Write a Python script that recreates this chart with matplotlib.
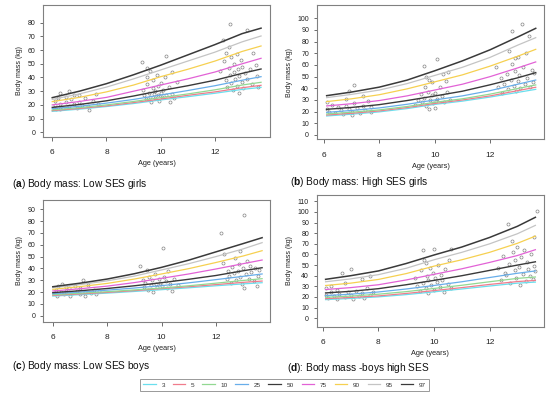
import matplotlib.pyplot as plt
from matplotlib.lines import Line2D

plt.rcParams['font.family'] = ['Liberation Sans', 'DejaVu Sans']
plt.rcParams['mathtext.fontset'] = 'custom'
plt.rcParams['mathtext.rm'] = 'Liberation Sans'
plt.rcParams['mathtext.bf'] = 'Liberation Sans:bold'

# centile curves: 3,5,10,25,50,75,90,95,97
centiles = ['3', '5', '10', '25', '50', '75', '90', '95', '97']
colours = ['#6ADFEE', '#F07C8C', '#92D892', '#68AEEA', '#3A3A3A',
           '#E262D6', '#F6D050', '#C4C4C4', '#3A3A3A']
widths = [0.9, 0.9, 0.9, 0.9, 1.0, 0.9, 0.9, 0.9, 1.1]

# (a) low SES girls
ages_a = [6.0, 7, 8, 9, 10, 11, 12, 13, 13.7]
curves_a = [
    [15.3, 16.9, 18.8, 21.0, 23.6, 26.0, 28.5, 31.3, 32.8],
    [15.8, 17.4, 19.3, 21.7, 24.3, 27.0, 29.5, 32.5, 34.3],
    [16.3, 18.0, 20.0, 22.5, 25.3, 28.0, 31.0, 34.5, 36.5],
    [17.3, 19.0, 21.3, 24.0, 27.2, 30.5, 34.0, 38.0, 40.6],
    [18.2, 20.3, 23.0, 26.5, 30.4, 34.0, 38.0, 43.0, 46.2],
    [20.0, 22.5, 25.5, 30.0, 34.5, 39.0, 44.0, 50.0, 54.0],
    [22.4, 25.5, 29.5, 34.5, 40.6, 46.0, 52.0, 59.0, 63.0],
    [24.0, 28.0, 33.0, 39.0, 45.5, 52.0, 58.5, 66.0, 70.3],
    [25.3, 30.0, 35.5, 42.0, 49.0, 56.5, 64.0, 72.0, 76.0],
]
pts_a = [(6.05, 18), (6.1, 20), (6.1, 23), (6.15, 17), (6.2, 25), (6.3, 29), (6.3, 21),
         (6.4, 18), (6.5, 22), (6.5, 26), (6.6, 30), (6.6, 19), (6.7, 24), (6.8, 21),
         (6.9, 18), (7.0, 27), (7.0, 22), (7.1, 20), (7.2, 25), (7.3, 19), (7.35, 16),
         (7.5, 23), (7.6, 28), (7.7, 21), (6.3, 17), (6.8, 27),
         (9.3, 51), (9.35, 31), (9.4, 27), (9.45, 24), (9.5, 47), (9.5, 35), (9.55, 29),
         (9.6, 26), (9.6, 45), (9.65, 22), (9.7, 32), (9.7, 38), (9.75, 28), (9.8, 25),
         (9.8, 30), (9.85, 42), (9.9, 27), (9.9, 34), (9.95, 23), (10.0, 29), (10.0, 36),
         (10.05, 26), (10.1, 31), (10.15, 40), (10.2, 56), (10.2, 27), (10.3, 33),
         (10.35, 22), (10.4, 44), (10.4, 28), (10.5, 25), (10.6, 37), (9.5, 40),
         (12.2, 45), (12.3, 67), (12.35, 52), (12.4, 38), (12.4, 58), (12.45, 33),
         (12.5, 47), (12.55, 79), (12.55, 42), (12.6, 36), (12.6, 55), (12.65, 31),
         (12.7, 44), (12.7, 50), (12.75, 39), (12.8, 57), (12.8, 34), (12.85, 46),
         (12.9, 41), (12.9, 29), (12.95, 53), (13.0, 37), (13.0, 48), (13.05, 32),
         (13.1, 43), (13.2, 75), (13.2, 39), (13.3, 46), (13.35, 35), (13.4, 58),
         (13.5, 49), (13.55, 41), (13.6, 33), (12.5, 62)]

# (b) high SES girls
ages_b = [6.1, 7, 8, 9, 10, 11, 12, 13, 13.65]
curves_b = [
    [16.3, 17.8, 19.8, 22.6, 26.2, 29.0, 32.5, 36.5, 39.1],
    [17.1, 18.6, 20.6, 23.5, 27.0, 30.0, 33.5, 38.0, 40.9],
    [18.0, 19.5, 21.5, 24.4, 28.0, 31.0, 35.0, 39.8, 42.9],
    [19.4, 21.0, 23.2, 26.3, 30.0, 33.5, 38.0, 43.5, 47.1],
    [22.0, 23.6, 26.0, 29.5, 33.4, 37.5, 43.0, 49.0, 53.4],
    [24.9, 26.8, 29.5, 33.5, 38.5, 43.5, 50.0, 57.5, 62.6],
    [28.6, 31.0, 34.5, 39.5, 45.5, 51.5, 59.0, 67.5, 73.4],
    [32.0, 34.8, 38.5, 44.0, 51.0, 58.0, 66.5, 77.0, 83.4],
    [33.7, 36.8, 41.0, 47.0, 55.0, 63.5, 73.0, 84.0, 91.4],
]
pts_b = [(6.1, 28), (6.1, 22), (6.2, 20), (6.3, 26), (6.4, 19), (6.5, 24), (6.6, 21),
         (6.7, 18), (6.8, 25), (6.8, 31), (6.9, 22), (7.0, 17), (7.0, 20), (7.1, 43),
         (7.1, 27), (7.2, 23), (7.3, 19), (7.4, 33), (7.4, 25), (7.5, 21), (7.6, 29),
         (7.7, 24), (6.9, 38), (7.7, 20),
         (9.3, 26), (9.4, 30), (9.5, 35), (9.55, 28), (9.6, 59), (9.6, 32), (9.7, 50),
         (9.7, 25), (9.75, 37), (9.8, 22), (9.8, 47), (9.85, 30), (9.9, 45), (9.9, 34),
         (9.95, 27), (10.0, 23), (10.0, 36), (10.05, 29), (10.1, 65), (10.1, 31),
         (10.2, 41), (10.25, 33), (10.3, 52), (10.35, 28), (10.4, 46), (10.45, 37),
         (10.5, 54), (10.55, 30), (9.65, 41),
         (12.2, 58), (12.3, 41), (12.4, 49), (12.45, 36), (12.5, 44), (12.6, 52),
         (12.65, 39), (12.7, 72), (12.75, 47), (12.8, 89), (12.8, 61), (12.85, 42),
         (12.9, 55), (12.95, 38), (13.0, 67), (13.0, 46), (13.05, 51), (13.1, 40),
         (13.15, 95), (13.2, 58), (13.25, 44), (13.3, 70), (13.35, 49), (13.4, 85),
         (13.45, 41), (13.5, 56), (13.55, 45), (13.6, 53), (12.9, 66)]

# (c) low SES boys
ages_c = [6.0, 7, 8, 9, 10, 11, 12, 13, 13.7]
curves_c = [
    [16.6, 17.8, 19.1, 20.5, 22.0, 23.6, 25.3, 26.9, 27.9],
    [17.2, 18.4, 19.7, 21.2, 22.9, 24.5, 26.3, 28.2, 29.3],
    [17.8, 19.0, 20.3, 21.8, 23.4, 25.3, 27.5, 29.8, 31.3],
    [18.6, 20.0, 21.6, 23.4, 25.4, 27.8, 30.5, 33.3, 35.3],
    [19.5, 21.1, 23.0, 25.3, 27.9, 30.8, 34.0, 38.0, 40.6],
    [20.9, 22.8, 25.0, 28.0, 31.6, 35.3, 39.5, 44.0, 47.1],
    [22.3, 24.6, 27.3, 31.0, 35.3, 39.8, 45.0, 50.5, 55.0],
    [23.7, 26.3, 29.5, 33.5, 38.7, 44.0, 50.0, 56.5, 61.8],
    [24.5, 27.5, 31.0, 35.5, 40.9, 47.0, 54.0, 61.0, 66.0],
]
pts_c = [(6.05, 19), (6.1, 22), (6.15, 17), (6.2, 25), (6.3, 20), (6.35, 27), (6.4, 18),
         (6.5, 21), (6.6, 23), (6.65, 17), (6.7, 19), (6.8, 25), (6.9, 21), (7.0, 18),
         (7.0, 23), (7.1, 30), (7.2, 20), (7.3, 26), (7.4, 19), (7.5, 22), (7.6, 18),
         (7.7, 21), (6.5, 24), (7.2, 17),
         (9.2, 42), (9.3, 30), (9.35, 24), (9.4, 28), (9.5, 22), (9.55, 33), (9.6, 26),
         (9.65, 30), (9.7, 20), (9.75, 35), (9.8, 27), (9.85, 24), (9.9, 31), (9.95, 28),
         (10.0, 25), (10.05, 57), (10.1, 33), (10.15, 29), (10.2, 23), (10.25, 38),
         (10.3, 27), (10.4, 21), (10.45, 31), (10.6, 26), (9.45, 39),
         (12.2, 70), (12.25, 45), (12.3, 52), (12.4, 31), (12.45, 38), (12.5, 34),
         (12.55, 28), (12.6, 41), (12.65, 36), (12.7, 49), (12.75, 30), (12.8, 38),
         (12.85, 44), (12.9, 33), (12.95, 27), (13.0, 40), (13.05, 85), (13.05, 23),
         (13.1, 35), (13.15, 46), (13.2, 31), (13.25, 42), (13.3, 37), (13.4, 29),
         (13.45, 40), (13.5, 25), (13.55, 34), (13.6, 39), (12.9, 55)]

# (d) high SES boys
ages_d = [6.1, 7, 8, 9, 10, 11, 12, 13, 13.65]
curves_d = [
    [17.5, 18.6, 20.1, 22.2, 24.8, 27.5, 30.3, 33.0, 34.0],
    [18.4, 19.5, 21.0, 23.3, 26.0, 28.8, 31.8, 34.5, 35.6],
    [19.7, 20.8, 22.6, 25.0, 28.0, 31.0, 34.3, 37.5, 38.8],
    [21.3, 22.6, 24.7, 27.5, 30.8, 34.3, 38.3, 42.3, 44.5],
    [23.8, 25.3, 27.8, 31.5, 35.6, 40.0, 45.0, 50.0, 53.1],
    [27.0, 28.8, 31.5, 36.0, 41.3, 46.5, 52.5, 59.0, 64.5],
    [30.8, 33.0, 36.5, 42.0, 49.0, 55.0, 62.0, 70.5, 77.3],
    [34.3, 37.0, 41.0, 47.0, 55.0, 62.0, 70.0, 79.5, 87.4],
    [36.6, 40.0, 44.5, 51.5, 59.5, 67.0, 76.0, 86.5, 95.0],
]
pts_d = [(6.1, 22), (6.1, 28), (6.2, 19), (6.3, 25), (6.4, 21), (6.5, 27), (6.5, 18),
         (6.6, 23), (6.7, 43), (6.8, 20), (6.8, 33), (6.9, 25), (7.0, 46), (7.0, 22),
         (7.1, 18), (7.2, 26), (7.3, 21), (7.4, 37), (7.4, 24), (7.5, 19), (7.6, 28),
         (7.7, 40), (7.7, 22), (7.8, 25), (6.3, 30),
         (9.3, 38), (9.4, 30), (9.5, 26), (9.55, 45), (9.6, 64), (9.6, 33), (9.7, 52),
         (9.7, 28), (9.75, 40), (9.8, 36), (9.8, 24), (9.85, 47), (9.9, 31), (9.95, 43),
         (10.0, 65), (10.0, 27), (10.05, 38), (10.1, 34), (10.15, 50), (10.2, 29),
         (10.25, 41), (10.3, 36), (10.35, 25), (10.4, 46), (10.5, 32), (10.55, 55),
         (10.6, 65), (10.6, 28), (9.65, 55),
         (12.3, 47), (12.4, 36), (12.5, 59), (12.55, 43), (12.65, 89), (12.7, 51),
         (12.75, 33), (12.8, 73), (12.85, 62), (12.9, 45), (12.9, 55), (12.95, 38),
         (13.0, 67), (13.05, 48), (13.1, 31), (13.15, 58), (13.2, 42), (13.25, 64),
         (13.3, 35), (13.35, 53), (13.4, 46), (13.45, 40), (13.5, 60), (13.55, 37),
         (13.6, 49), (13.65, 44), (13.7, 101), (13.6, 76), (12.6, 41)]

W, H = 550, 398
fig = plt.figure(figsize=(W / 100, H / 100), dpi=100)

def px_rect(l, t, r, b):
    return [l / W, 1 - b / H, (r - l) / W, (b - t) / H]

panels = [
    (px_rect(43.3, 5, 270, 136.7), ages_a, curves_a, pts_a, (5.67, 14.03), (-3.2, 92.9), 80),
    (px_rect(316.7, 5, 544.3, 139.3), ages_b, curves_b, pts_b, (5.74, 13.96), (-3.7, 111.4), 100),
    (px_rect(43.3, 200, 270, 321.7), ages_c, curves_c, pts_c, (5.65, 13.99), (-5.1, 97.9), 90),
    (px_rect(316.7, 195, 544, 326.7), ages_d, curves_d, pts_d, (5.78, 13.96), (-8.0, 116.0), 110),
]

for rect, ages, curves, pts, xl, yl, ytop in panels:
    ax = fig.add_axes(rect)
    ax.plot([p[0] for p in pts], [p[1] for p in pts], 'o', ms=2.2, mfc='none',
            mec='#858585', mew=0.5, zorder=1)
    for vals, c, lw in zip(curves, colours, widths):
        ax.plot(ages, vals, color=c, lw=lw, zorder=2)
    ax.set_xlim(xl)
    ax.set_ylim(yl)
    ax.set_xticks([6, 8, 10, 12])
    ax.set_yticks(range(0, ytop + 1, 10))
    for s in ax.spines.values():
        s.set_color('#808080')
        s.set_linewidth(0.8)
    ax.tick_params(axis='x', labelsize=6, length=3, width=0.6, color='#555555', pad=6, labelcolor='#222222')
    ax.tick_params(axis='y', labelsize=5, length=2.5, width=0.6, color='#555555', pad=3, labelcolor='#222222')
    ax.set_xlabel('Age (years)', fontsize=5.3, color='#222222', labelpad=3)
    ax.set_ylabel('Body mass (kg)', fontsize=5, color='#222222', labelpad=3.5)

caps = [
    (11.7, 184, r'($\mathbf{a}$) Body mass: Low SES girls'),
    (290, 182, r'($\mathbf{b}$) Body mass: High SES girls'),
    (11.7, 365.7, r'($\mathbf{c}$) Body mass: Low SES boys'),
    (286.7, 367.7, r'($\mathbf{d}$): Body mass -boys high SES'),
]
for x, y, t in caps:
    fig.text(x / W, 1 - y / H, t, fontsize=7.3, va='center', ha='left', color='#111111')

handles = [Line2D([], [], color=c, lw=0.9) for c in colours]
leg = fig.legend(handles, centiles, ncol=9, loc='center',
                 bbox_to_anchor=(284.5 / W, 1 - 384.8 / H), fontsize=4.6,
                 handlelength=1.9, handletextpad=0.9, columnspacing=1.25,
                 frameon=True, fancybox=False, edgecolor='#808080', borderpad=0.5,
                 labelcolor='#333333')
leg.get_frame().set_linewidth(0.7)

fig.savefig('out.png', dpi=100)
